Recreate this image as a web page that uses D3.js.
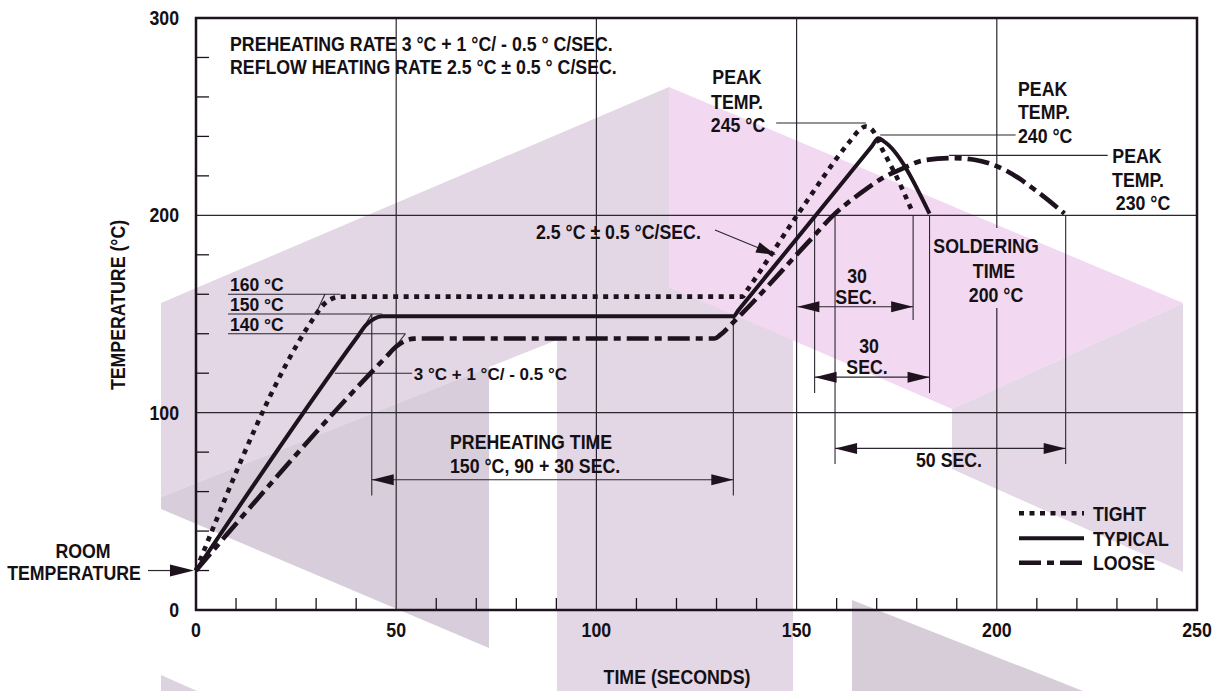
<!DOCTYPE html>
<html><head><meta charset="utf-8">
<script src="https://cdn.jsdelivr.net/npm/d3@7"></script>
<style>
body{margin:0;background:#fff;}
svg{display:block;}
text{font-family:'Liberation Sans','Arial',sans-serif;font-weight:bold;fill:#141014;}
</style></head><body>
<svg id="c" width="1215" height="691"></svg>
<script>
// ---------- data ----------
const timeTicks=[0,50,100,150,200,250];
const tempTicks=[0,100,200,300];
const minorTime=[10,20,30,40,60,70,80,90,110,120,130,140,160,170,180,190,210,220,230,240];
const minorTemp=[20,40,60,80,120,140,160,180,220,240,260,280];
const gridTime=[50,100,150];
const gridTemp=[100,200];

const seriesNames=["TIGHT","TYPICAL","LOOSE"];
const tightTime=[0,29.5,31.5,33.5,35.5,37.5,136.5,137.8,150.3,163.5,165.8,167.2,168.8,171.3,175,179.1];
const tightTemp=[20,148.3,154,157.3,158.6,158.8,158.8,162.5,200.5,238,243.5,245,243.5,233.8,219.4,200.9];
const typicalTime=[0,40.5,42.5,44.5,46.5,134.2,135.5,168.8,170.4,171.8,183.2];
const typicalTemp=[20,139,144.5,147.6,148.8,148.8,152,235,239,237.5,200.9];
const looseTime=[0,47.5,50,52,54.5,57,129.5,131,133.8,153.3,159.4,165.8,171.9,176.4,181.8,189,194.4,202.5,209.8,216.9];
const looseTemp=[20,128.3,133.5,136.2,137.5,137.6,137.6,139.5,145,187.3,200.5,211,219.4,223.7,227.9,229,228.2,222.5,212.5,200.9];

// watermark (decorative background, pixel polygons)
const wmLight=[[161,303],[669,87],[669,287],[793,339],[793,691],[557,691],[557,340],[161,497]];
const wmDark=[[161,497],[489,367],[489,648],[161,509]];
const wmPink=[[669,87],[1183,303],[952,409],[669,287]];
const wmRight=[[952,409],[1183,303],[1183,572],[952,469]];
const wmBottomR=[[852,600],[1083,691],[852,691]];
const wmBottomL=[[161,675],[197,691],[161,691]];

// ---------- scales ----------
const x=d3.scaleLinear().domain([0,250]).range([196,1197]);
const y=d3.scaleLinear().domain([0,300]).range([610,18]);
const svg=d3.select("#c");
const ink="#1d121d", thin="#2b2630";
const SX=0.91; // horizontal condensing of the bold face

// watermark
const wm=svg.append("g");
[[wmLight,"#e3d6e5"],[wmDark,"#d8cedb"],[wmPink,"#f2d8f1"],[wmRight,"#e4d7e6"],[wmBottomR,"#d6cdd9"],[wmBottomL,"#ddd2df"]]
 .forEach(([p,c])=>wm.append("polygon").attr("points",p.map(d=>d.join(",")).join(" ")).attr("fill",c));

// gridlines
const g=svg.append("g");
gridTemp.forEach(v=>g.append("line").attr("x1",x(0)).attr("x2",x(250)).attr("y1",y(v)).attr("y2",y(v)).attr("stroke",thin).attr("stroke-width",1.2));
gridTime.forEach(v=>g.append("line").attr("x1",x(v)).attr("x2",x(v)).attr("y1",y(300)).attr("y2",y(0)).attr("stroke",thin).attr("stroke-width",1.2));
g.append("line").attr("x1",x(200)).attr("x2",x(200)).attr("y1",y(300)).attr("y2",y(193.6)).attr("stroke",thin).attr("stroke-width",1.2);
g.append("line").attr("x1",x(200)).attr("x2",x(200)).attr("y1",y(153)).attr("y2",y(0)).attr("stroke",thin).attr("stroke-width",1.2);

// minor ticks
minorTemp.forEach(v=>g.append("line").attr("x1",x(0)).attr("x2",x(0)+13).attr("y1",y(v)).attr("y2",y(v)).attr("stroke",ink).attr("stroke-width",1.3));
minorTime.forEach(v=>g.append("line").attr("x1",x(v)).attr("x2",x(v)).attr("y1",y(0)).attr("y2",y(0)-12).attr("stroke",ink).attr("stroke-width",1.3));

// frame
svg.append("rect").attr("x",x(0)).attr("y",y(300)).attr("width",x(250)-x(0)).attr("height",y(0)-y(300))
  .attr("fill","none").attr("stroke",ink).attr("stroke-width",2.5);

// helpers
function txt(px,py,s,size,anchor,sx){
  return svg.append("text").attr("transform",`translate(${px},${py}) scale(${sx||SX},1)`)
    .attr("font-size",size||19.5).attr("text-anchor",anchor||"start").text(s);
}
function line(pts,w,col){return svg.append("path").attr("d",d3.line()(pts.map(d=>[x(d[0]),y(d[1])]))).attr("fill","none").attr("stroke",col||thin).attr("stroke-width",w||1.1);}
function head(tx,ty,dir,len,hw){
  const [dx,dy]=dir, bx=tx-dx*len, by=ty-dy*len;
  svg.append("polygon").attr("points",[[tx,ty],[bx-dy*hw,by+dx*hw],[bx+dy*hw,by-dx*hw]].map(d=>d.join(",")).join(" ")).attr("fill",ink);
}
function dimArrow(t1,t2,v){
  const yy=y(v);
  svg.append("line").attr("x1",x(t1)).attr("x2",x(t2)).attr("y1",yy).attr("y2",yy).attr("stroke",thin).attr("stroke-width",1.1);
  head(x(t1),yy,[-1,0],22,5.5);head(x(t2),yy,[1,0],22,5.5);
}

// tick labels & titles
tempTicks.forEach(v=>txt(x(0)-17,y(v)+7,String(v),19.5,"end"));
timeTicks.forEach(v=>txt(x(v),y(0)+27,String(v),19.5,"middle"));
txt(677,684,"TIME (SECONDS)",19.5,"middle");
svg.append("text").attr("transform","translate(125,305) rotate(-90) scale(0.91,1)").attr("text-anchor","middle").attr("font-size",19.5).text("TEMPERATURE (°C)");

// header notes
txt(230,51,"PREHEATING RATE 3  °C + 1  °C/ - 0.5 ° C/SEC.",19.5);
txt(230,74,"REFLOW HEATING RATE 2.5 °C ± 0.5  ° C/SEC.",19.5);

// construction lines
line([[8,160],[36,160]]);line([[30,150.5],[32.2,160]]);
line([[8,150],[46.5,150]]);line([[42.5,145.5],[43.9,150]]);
line([[8,140],[52.3,140]]);line([[49.8,133.5],[52.3,140]]);
line([[34.7,120],[54,120]]);
txt(x(0)+34,y(160)-3,"160 °C",17.5,"start",1);
txt(x(0)+34,y(150)-3,"150 °C",17.5,"start",1);
txt(x(0)+34,y(140)-3,"140 °C",17.5,"start",1);
txt(x(54.4),y(120)+6.5,"3 °C + 1 °C/ - 0.5 °C",17,"start",1);

// preheating
line([[43.9,150],[43.9,58]]);line([[134.2,148.8],[134.2,58]]);
dimArrow(43.9,134.2,66);
txt(450,449,"PREHEATING TIME");
txt(450,473,"150 °C, 90 + 30 SEC.");

// soldering verticals and spans
line([[154.5,200],[154.5,110]]);
line([[159.6,200],[159.6,74]]);
line([[179.1,200],[179.1,147]]);
line([[183.2,200],[183.2,110]]);
line([[217.2,200],[217.2,74]]);
dimArrow(150.2,179.1,153.7);
dimArrow(154.5,183.2,118);
dimArrow(159.6,217.2,81.9);
txt(857,283,"30",19.5,"middle");txt(856,303.5,"SEC.",19.5,"middle");
txt(869,353,"30",19.5,"middle");txt(867,373.5,"SEC.",19.5,"middle");
txt(949,467,"50 SEC.",19.5,"middle");
txt(986,253,"SOLDERING",19.5,"middle");txt(994,278,"TIME",19.5,"middle");txt(996,301.5,"200 °C",19.5,"middle");

// reflow rate
txt(536,238.5,"2.5 °C ± 0.5 °C/SEC.");
svg.append("line").attr("x1",715).attr("y1",230).attr("x2",760).attr("y2",248.5).attr("stroke",thin).attr("stroke-width",1.1);
head(776,255,[0.925,0.38],20,5.5);

// peaks
line([[144.9,246.8],[167.3,246.8]]);
txt(737,84,"PEAK",19.5,"middle");txt(737,108.5,"TEMP.",19.5,"middle");txt(738,131.5,"245 °C",19.5,"middle");
line([[170.9,240.7],[204.7,240.7]]);
txt(1018,96,"PEAK");txt(1018,119,"TEMP.");txt(1018,142.5,"240 °C");
line([[188.1,230.4],[227.7,230.4]]);
txt(1137,163.3,"PEAK",19.5,"middle");txt(1138,186.7,"TEMP.",19.5,"middle");txt(1143,210,"230 °C",19.5,"middle");

// room temperature
txt(83,558,"ROOM",19.5,"middle");txt(74,580,"TEMPERATURE",19.5,"middle");
svg.append("line").attr("x1",148).attr("x2",175).attr("y1",y(20)).attr("y2",y(20)).attr("stroke",thin).attr("stroke-width",1.2);
head(194,y(20),[1,0],24,6);

// curves
const styles=[{w:4.6,dash:"5,5.5"},{w:4,dash:null},{w:4.6,dash:"22,6,7,6"}];
const series=[[tightTime,tightTemp],[typicalTime,typicalTemp],[looseTime,looseTemp]];
const lineGen=d3.line().x(d=>x(d[0])).y(d=>y(d[1])).curve(d3.curveMonotoneX);
series.forEach(([ts,vs],i)=>{
  const p=svg.append("path").datum(ts.map((t,j)=>[t,vs[j]])).attr("d",lineGen).attr("fill","none")
   .attr("stroke",ink).attr("stroke-width",styles[i].w).attr("stroke-linejoin","round");
  if(styles[i].dash)p.attr("stroke-dasharray",styles[i].dash);
});

// legend
const legY=[513.3,538.3,562.7];
seriesNames.forEach((n,i)=>{
  const l=svg.append("line").attr("x1",1019).attr("x2",1084).attr("y1",legY[i]).attr("y2",legY[i]).attr("stroke",ink).attr("stroke-width",styles[i].w);
  if(styles[i].dash)l.attr("stroke-dasharray",styles[i].dash);
  txt(1093,legY[i]+7.5,n);
});
</script></body></html>
